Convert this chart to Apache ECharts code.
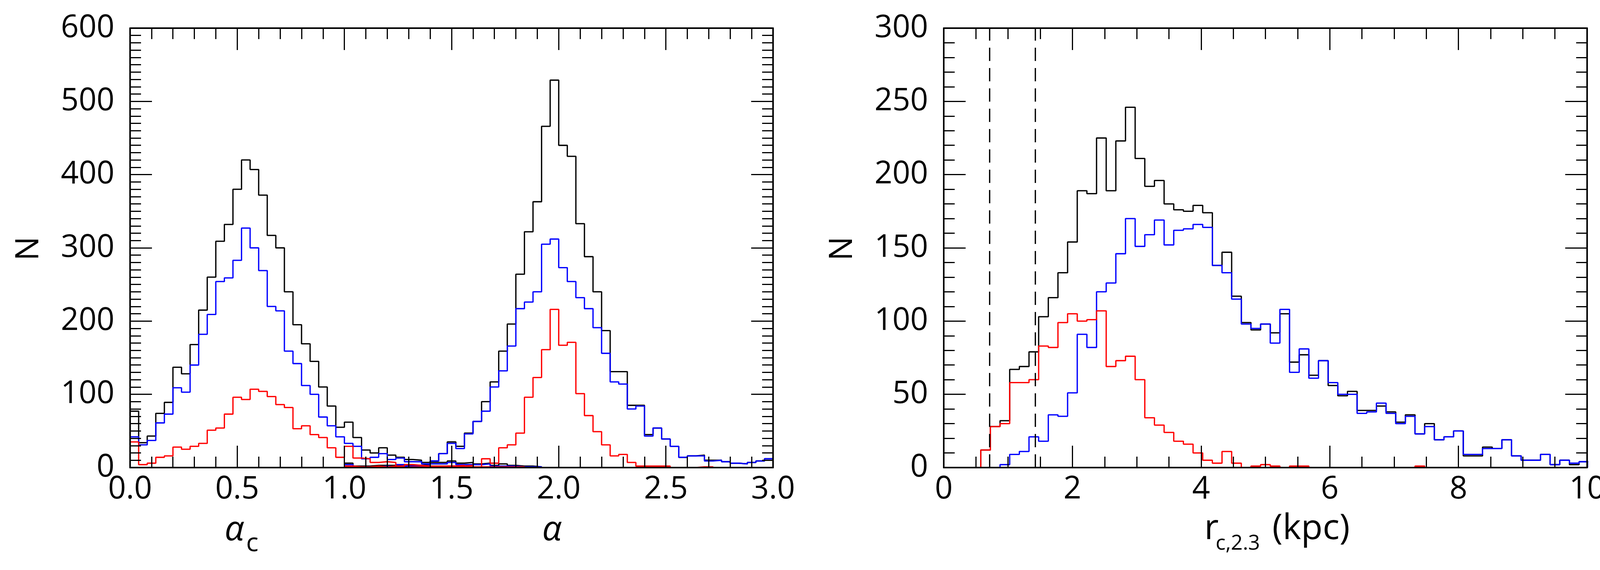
<!DOCTYPE html>
<html>
<head>
<meta charset="utf-8">
<script src="https://cdn.jsdelivr.net/npm/echarts@6/dist/echarts.min.js"></script>
<style>
html, body { margin: 0; padding: 0; background: #fff; }
#chart { width: 4167px; height: 1458px; }
</style>
</head>
<body>
<div id="chart"></div>
<script>
// left panel: bins of 0.04 starting at 0
var leftBinStart = 0;
var leftBinWidth = 0.04;
// alpha_c histograms, bins 0..47
var acBlack = [77, 34, 43, 74, 89, 137, 128, 168, 215, 260,
    309, 332, 380, 420, 407, 372, 317, 300, 240, 195,
    169, 145, 110, 84, 55, 62, 41, 24, 20, 27,
    17, 14, 11, 10, 7, 7, 7, 9, 6, 7,
    5, 6, 3, 5, 3, 2, 2, 1];
var acBlue = [42, 31, 37, 61, 73, 109, 103, 140, 182, 209,
    254, 259, 283, 327, 300, 269, 220, 214, 159, 142,
    112, 100, 69, 57, 42, 33, 29, 12, 14, 19,
    11, 13, 8, 8, 5, 5, 5, 7, 4, 4,
    4, 5, 2, 2, 2, 1, 1, 1];
var acRed = [35, 4, 6, 14, 16, 28, 25, 29, 33, 51,
    54, 73, 96, 93, 107, 104, 97, 86, 82, 53,
    57, 45, 41, 27, 14, 29, 13, 12, 7, 8,
    7, 2, 4, 3, 2, 2, 2, 2, 2, 3,
    1, 1, 1, 1, 1, 1];
// alpha histograms, bins 25..74
var aFirstBin = 25;
var aBlack = [6, 2, 2, 3, 3, 3, 4, 3, 3, 4,
    9, 19, 35, 29, 47, 63, 90, 117, 159, 196,
    264, 322, 363, 466, 529, 440, 425, 333, 288, 240,
    187, 131, 131, 85, 85, 45, 54, 39, 29, 14,
    16, 17, 10, 10, 8, 6, 5, 7, 9, 12];
var aBlue = [4, 1, 1, 1, 2, 1, 4, 2, 2, 3,
    9, 19, 33, 26, 46, 63, 77, 110, 132, 166,
    217, 226, 240, 305, 312, 273, 254, 232, 217, 191,
    156, 117, 114, 80, 84, 43, 54, 39, 29, 14,
    16, 16, 9, 10, 8, 6, 5, 7, 9, 12];
var aRed = [2, 1, 1, 2, 1, 2, 0, 1, 1, 1,
    0, 0, 2, 3, 1, 0, 12, 6, 27, 31,
    47, 96, 123, 161, 216, 167, 171, 101, 71, 49,
    31, 16, 18, 7, 2, 2, 2, 2, 0, 0,
    0, 1, 1];

// right panel: bins of 0.15 starting at 0.575
var rightBinStart = 0.575;
var rightBinWidth = 0.15;
var rBlack = [12, 28, 32, 67, 69, 79, 103, 116, 133, 154,
    189, 187, 225, 189, 223, 246, 211, 192, 196, 180,
    176, 175, 179, 174, 138, 147, 117, 99, 94, 98,
    92, 105, 72, 77, 63, 73, 56, 49, 52, 39,
    39, 42, 38, 31, 36, 23, 30, 19, 21, 25,
    8, 8, 14, 13, 19, 8, 5, 5, 9, 2,
    5, 2, 4];
var rBlue = [0, 0, 2, 9, 11, 21, 18, 36, 35, 51,
    91, 82, 120, 126, 146, 170, 151, 159, 169, 152,
    162, 163, 166, 164, 138, 133, 115, 98, 95, 98,
    85, 108, 65, 81, 61, 73, 58, 50, 50, 37,
    38, 44, 37, 30, 35, 23, 28, 19, 21, 25,
    9, 9, 13, 13, 19, 8, 5, 5, 9, 2,
    5, 3, 4];
var rRed = [12, 28, 30, 58, 58, 60, 83, 82, 99, 105,
    100, 101, 107, 69, 73, 76, 60, 34, 29, 24,
    18, 16, 10, 5, 3, 11, 3, 0, 1, 2,
    1, 0, 1, 1, 0, 0, 0, 0, 0, 0,
    0, 0, 0, 0, 0, 1];
// dashed reference lines in the right panel
var dashX = [0.71, 1.42];

var FONT = "'Open Sans', 'Noto Sans', sans-serif";

// step outline of a histogram: rises from 0 at first non-empty bin, drops back at the end
function hist(start, width, firstBin, values) {
    var i0 = 0, i1 = values.length - 1;
    while (i0 < i1 && values[i0] === 0) i0++;
    while (i1 > i0 && values[i1] === 0) i1--;
    var e = function(k) { return +(start + (firstBin + k) * width).toFixed(4); };
    var pts = [[e(i0), 0]];
    for (var i = i0; i <= i1; i++) pts.push([e(i), values[i]]);
    pts.push([e(i1 + 1), values[i1]]);
    pts.push([e(i1 + 1), 0]);
    return pts;
}

function axis(type, grid, pos, min, max, interval, minorSplit, fmt) {
    var a = {
        type: 'value', gridIndex: grid, position: pos,
        min: min, max: max, interval: interval, z: 5,
        axisLine: { show: true, onZero: false, lineStyle: { color: '#000', width: 4 } },
        axisTick: { show: true, inside: true, length: 56, lineStyle: { color: '#000', width: 3 } },
        minorTick: { show: true, splitNumber: minorSplit, length: 28, lineStyle: { color: '#000', width: 3 } },
        splitLine: { show: false },
        minorSplitLine: { show: false },
        axisLabel: { show: false }
    };
    if (fmt) {
        a.axisLabel = {
            show: true, color: '#000', fontSize: 80, fontFamily: FONT,
            margin: type === 'x' ? 16 : 40, formatter: fmt,
            showMinLabel: true, showMaxLabel: true
        };
    }
    return a;
}

function line(xi, yi, color, data) {
    return {
        type: 'line', xAxisIndex: xi, yAxisIndex: yi, step: 'end',
        symbol: 'none', data: data, silent: true, clip: true,
        lineStyle: { color: color, width: 3.3 }
    };
}

function label(x, y, text, size, align, italic, rot) {
    return {
        type: 'text', x: x, y: y, rotation: rot || 0,
        style: {
            text: text, fontSize: size, fontFamily: FONT, fill: '#000',
            fontStyle: italic ? 'italic' : 'normal',
            align: align, verticalAlign: 'middle'
        }
    };
}

var chart = echarts.init(document.getElementById('chart'));

var option = {
    animation: false,
    backgroundColor: '#fff',
    grid: [
        { left: 333, top: 72, width: 1646, height: 1124 },
        { left: 2416, top: 72, width: 1647, height: 1124 }
    ],
    xAxis: [
        axis('x', 0, 'bottom', 0, 3, 0.5, 5, function(v) { return v.toFixed(1); }),
        axis('x', 0, 'top', 0, 3, 0.5, 5, null),
        axis('x', 1, 'bottom', 0, 10, 2, 4, '{value}'),
        axis('x', 1, 'top', 0, 10, 2, 4, null)
    ],
    yAxis: [
        axis('y', 0, 'left', 0, 600, 100, 10, '{value}'),
        axis('y', 0, 'right', 0, 600, 100, 10, null),
        axis('y', 1, 'left', 0, 300, 50, 5, '{value}'),
        axis('y', 1, 'right', 0, 300, 50, 5, null)
    ],
    series: [
        line(0, 0, '#000', hist(leftBinStart, leftBinWidth, 0, acBlack)),
        line(0, 0, '#000', hist(leftBinStart, leftBinWidth, aFirstBin, aBlack)),
        line(0, 0, '#0000ff', hist(leftBinStart, leftBinWidth, 0, acBlue)),
        line(0, 0, '#0000ff', hist(leftBinStart, leftBinWidth, aFirstBin, aBlue)),
        line(0, 0, '#ff0000', hist(leftBinStart, leftBinWidth, 0, acRed)),
        line(0, 0, '#ff0000', hist(leftBinStart, leftBinWidth, aFirstBin, aRed)),
        (function() {
            var s = line(2, 2, '#000', hist(rightBinStart, rightBinWidth, 0, rBlack));
            s.markLine = {
                silent: true, symbol: 'none', animation: false,
                label: { show: false },
                lineStyle: { color: '#000', width: 3.3, type: [34, 18] },
                data: dashX.map(function(x) { return { xAxis: x }; })
            };
            return s;
        })(),
        line(2, 2, '#0000ff', hist(rightBinStart, rightBinWidth, 0, rBlue)),
        line(2, 2, '#ff0000', hist(rightBinStart, rightBinWidth, 0, rRed))
    ],
    graphic: [
        label(75, 636, 'N', 82, 'center', false, Math.PI / 2),
        label(2158, 636, 'N', 82, 'center', false, Math.PI / 2),
        // alpha_c
        label(600, 1357, 'α', 88, 'center', true),
        label(630, 1391, 'c', 66, 'left', false),
        // alpha
        label(1413, 1357, 'α', 88, 'center', true),
        // r_c,2.3 (kpc)
        label(3083, 1353, 'r', 90, 'left', false),
        label(3112, 1391, 'c,2.3', 53, 'left', false),
        label(3257, 1353, '(kpc)', 90, 'left', false)
    ]
};

chart.setOption(option);
</script>
</body>
</html>
